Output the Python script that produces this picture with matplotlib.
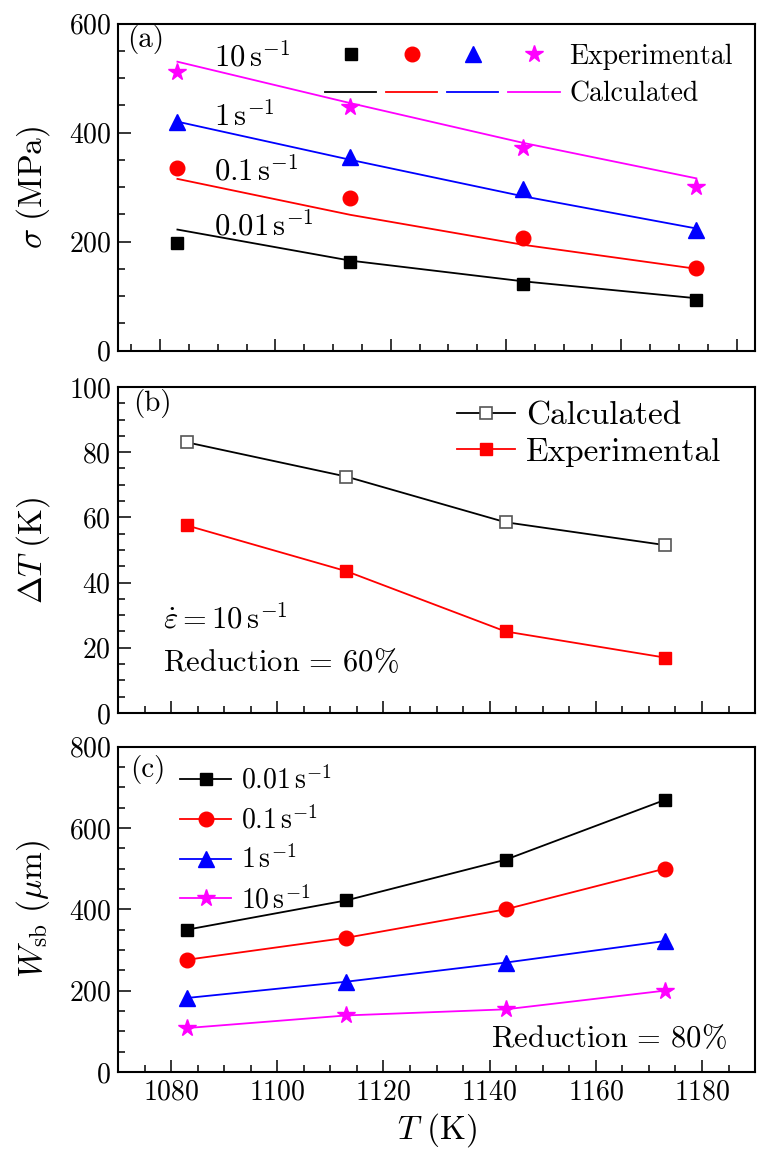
import matplotlib
matplotlib.use("Agg")
import matplotlib.pyplot as plt
from matplotlib.lines import Line2D
from matplotlib.ticker import MultipleLocator

plt.rcParams["font.family"] = "serif"
plt.rcParams["font.serif"] = ["cmr10"]
plt.rcParams["mathtext.fontset"] = "cm"
plt.rcParams["axes.unicode_minus"] = False
plt.rcParams["axes.formatter.use_mathtext"] = True

# temperatures (K)
temps = [1083, 1113, 1143, 1173]
rates = ["0.01", "0.1", "1", "10"]
colors = ["black", "red", "blue", "magenta"]
markers = ["s", "o", "^", "*"]
msizes = [9, 10.5, 11, 13]

# (a) flow stress, MPa
sigma_exp = {
    "0.01": [197, 163, 122, 93],
    "0.1": [335, 280, 207, 152],
    "1": [419, 356, 297, 222],
    "10": [511, 446, 371, 301],
}
sigma_calc = {
    "0.01": [222, 165, 127, 96],
    "0.1": [315, 249, 194, 150],
    "1": [420, 350, 283, 224],
    "10": [530, 454, 381, 316],
}
# (b) temperature rise at 10 s^-1, K
dT_calc = [83, 72.5, 58.5, 51.5]
dT_exp = [57.5, 43.5, 25, 17]
# (c) shear band width, um
w_sb = {
    "0.01": [350, 422, 522, 669],
    "0.1": [276, 330, 400, 500],
    "1": [182, 222, 269, 322],
    "10": [108, 139, 154, 200],
}

FS_TICK = 20
FS_LAB = 24
FS_LEG = 20
FS_TXT = 21


def style(ax):
    for s in ax.spines.values():
        s.set_linewidth(1.5)
    ax.tick_params(which="both", direction="in", top=False, right=False,
                   labelsize=FS_TICK, width=1.1)
    ax.tick_params(which="major", length=9, pad=5)
    ax.tick_params(which="minor", length=5)
    ax.xaxis.set_major_locator(MultipleLocator(20))
    ax.xaxis.set_minor_locator(MultipleLocator(5))


fig = plt.figure(figsize=(7.63, 11.55), dpi=100)
L, W = 0.1547, 0.8349
ax_a = fig.add_axes([L, 0.6965, W, 0.2831])
ax_b = fig.add_axes([L, 0.3827, W, 0.2823])
ax_c = fig.add_axes([L, 0.0719, W, 0.2816])

# ---- (a)
for r, c, m, ms in zip(rates, colors, markers, msizes):
    ax_a.plot(temps, sigma_calc[r], "-", color=c, lw=1.3)
    ax_a.plot(temps, sigma_exp[r], m, color=c, ms=ms, ls="none")
ax_a.set_xlim(1072.7, 1183.2)
ax_a.set_ylim(0, 600)
ax_a.yaxis.set_major_locator(MultipleLocator(200))
ax_a.yaxis.set_minor_locator(MultipleLocator(50))
style(ax_a)
ax_a.tick_params(labelbottom=False)
ax_a.set_ylabel(r"$\sigma\ (\mathrm{MPa})$", fontsize=FS_LAB, labelpad=12)
ax_a.text(0.015, 0.95, "(a)", transform=ax_a.transAxes, fontsize=FS_TXT, va="center")
rate_txt_y = [211, 312, 412, 521]
for r, ty in zip(rates, rate_txt_y):
    ax_a.text(1089.3, ty, r"$%s\,\mathrm{s}^{-1}$" % r, fontsize=FS_TXT + 1, va="baseline")

hs, ls = [], []
for c, m, ms in zip(colors, markers, msizes):
    hs.append(Line2D([], [], marker=m, color=c, ms=ms, ls="none"))
    hs.append(Line2D([], [], color=c, lw=1.3))
    ls += ["", ""]
ls[-2:] = ["Experimental", "Calculated"]
ax_a.legend(hs, ls, ncol=4, loc="upper left", bbox_to_anchor=(0.325, 0.94),
            frameon=False, fontsize=FS_LEG, handlelength=1.84, handletextpad=0.36,
            columnspacing=0.0, labelspacing=0.43, borderpad=0, borderaxespad=0)

# ---- (b)
ax_b.plot(temps, dT_calc, "-s", color="black", lw=1.3, ms=8, mfc="white",
          mec="#555555", mew=1.2, label="Calculated")
ax_b.plot(temps, dT_exp, "-s", color="red", lw=1.3, ms=8, mfc="red", mec="red",
          label="Experimental")
ax_b.set_xlim(1070, 1190)
ax_b.set_ylim(0, 100)
ax_b.yaxis.set_major_locator(MultipleLocator(20))
ax_b.yaxis.set_minor_locator(MultipleLocator(5))
style(ax_b)
ax_b.tick_params(labelbottom=False)
ax_b.set_ylabel(r"$\Delta T\ (\mathrm{K})$", fontsize=FS_LAB, labelpad=12)
ax_b.text(0.024, 0.95, "(b)", transform=ax_b.transAxes, fontsize=FS_TXT, va="center")
ax_b.text(0.071, 0.26, r"$\dot{\varepsilon} = 10\,\mathrm{s}^{-1}$", transform=ax_b.transAxes,
          fontsize=FS_TXT + 1, va="baseline")
ax_b.text(0.071, 0.13, r"Reduction$\,=\,$60%", transform=ax_b.transAxes,
          fontsize=FS_TXT + 1, va="baseline")
ax_b.legend(loc="upper left", bbox_to_anchor=(0.532, 0.956), frameon=False,
            fontsize=24, handlelength=1.75, handletextpad=0.33, labelspacing=0.2,
            borderpad=0, borderaxespad=0)

# ---- (c)
for r, c, m, ms in zip(rates, colors, markers, msizes):
    ax_c.plot(temps, w_sb[r], "-", marker=m, color=c, lw=1.3, ms=ms,
              label=r"$%s\,\mathrm{s}^{-1}$" % r)
ax_c.set_xlim(1070, 1190)
ax_c.set_ylim(0, 800)
ax_c.yaxis.set_major_locator(MultipleLocator(200))
ax_c.yaxis.set_minor_locator(MultipleLocator(50))
style(ax_c)
ax_c.set_ylabel(r"$W_{\mathrm{sb}}\ (\mu\mathrm{m})$", fontsize=FS_LAB, labelpad=12)
ax_c.set_xlabel(r"$T\ (\mathrm{K})$", fontsize=FS_LAB, labelpad=4)
ax_c.text(0.019, 0.93, "(c)", transform=ax_c.transAxes, fontsize=FS_TXT, va="center")
ax_c.text(0.955, 0.075, r"Reduction$\,=\,$80%", transform=ax_c.transAxes,
          fontsize=FS_TXT + 1, va="baseline", ha="right")
ax_c.legend(loc="upper left", bbox_to_anchor=(0.097, 0.94), frameon=False,
            fontsize=FS_LEG, handlelength=1.86, handletextpad=0.35, labelspacing=0.4,
            borderpad=0, borderaxespad=0)

fig.savefig("out.png", dpi=100)
